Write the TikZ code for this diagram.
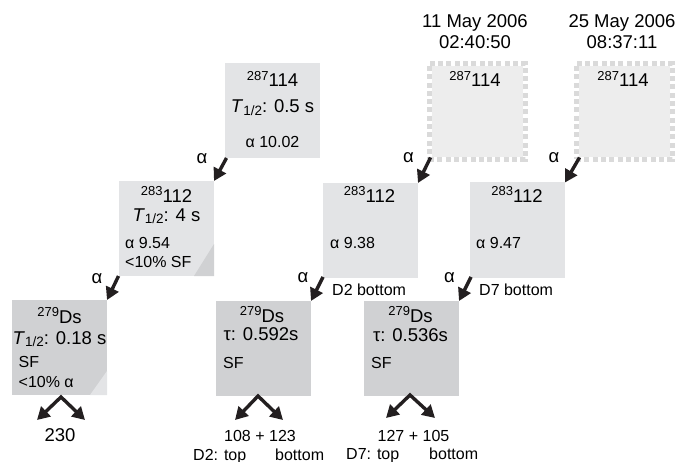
\documentclass[tikz,border=0pt]{standalone}
\usepackage{fontspec}
\setmainfont{Liberation Sans}
\usetikzlibrary{arrows.meta}
\definecolor{boxlight}{HTML}{E3E4E6}
\definecolor{boxdark}{HTML}{D0D1D3}
\definecolor{boxghost}{HTML}{EDEDED}
\definecolor{ghostline}{HTML}{DADADA}
\definecolor{ink}{HTML}{231F20}
\newcommand{\szL}{\fontsize{18.5}{20}\selectfont}
\newcommand{\szS}{\fontsize{16}{17}\selectfont}
\newcommand{\Thalf}{\textit{T}\raisebox{-0.3ex}{\fontsize{13.5}{14}\selectfont 1/2}}
\newcommand{\iso}[2]{\raisebox{0.62ex}{\fontsize{13}{14}\selectfont #1}#2}
\tikzset{
  nbox/.style={minimum width=95pt, minimum height=95pt, inner sep=0pt, outer sep=0pt, draw=none},
  lightbox/.style={nbox, fill=boxlight},
  darkbox/.style={nbox, fill=boxdark},
  ghostbox/.style={minimum width=96pt, minimum height=96pt, inner sep=0pt, outer sep=0pt,
     draw=ghostline, line width=5pt, dash pattern=on 5pt off 3.3pt},
  big/.style={anchor=base, inner sep=0pt, font=\szL},
  small/.style={anchor=base, inner sep=0pt, font=\szS},
  smallw/.style={anchor=base west, inner sep=0pt, font=\szS},
  arr/.style={draw=ink, line width=3.4pt, -{Triangle[length=12.5pt,width=13.5pt]}},
  fork/.style={draw=ink, line width=3.4pt, line join=miter,
     {Triangle[length=12.5pt,width=13.5pt]}-{Triangle[length=12.5pt,width=13.5pt]}},
}
\begin{document}
\begin{tikzpicture}[x=1pt,y=-1pt]
\useasboundingbox (0,0) rectangle (676,462);
% boxes
\node[lightbox] (A) at (272.5,110.5) {};
\node[lightbox] (B) at (166.5,228.5) {};
\node[darkbox]  (C) at (59.5,347.5) {};
\node[ghostbox] (D) at (477,111.5) {};
\node[ghostbox] (E) at (624,111.5) {};
\fill[boxghost] ([shift={(2.5pt,-2.5pt)}]D.north west) rectangle ([shift={(-2.5pt,2.5pt)}]D.south east);
\fill[boxghost] ([shift={(2.5pt,-2.5pt)}]E.north west) rectangle ([shift={(-2.5pt,2.5pt)}]E.south east);
\node[lightbox] (F) at (370.5,230.5) {};
\node[lightbox] (G) at (517.5,230) {};
\node[darkbox]  (H) at (263.5,348.5) {};
\node[darkbox]  (I) at (411.5,348.5) {};
% folded corners
\fill[boxdark] ([xshift=-20pt]B.south east) -- (B.south east) -- ([yshift=32pt]B.south east) -- cycle;
\fill[boxlight] ([xshift=-17pt]C.south east) -- (C.south east) -- ([yshift=24pt]C.south east) -- cycle;
% dates
\node[big] (d1) at (475,28) {11 May 2006};
\node[big] (t1) at (475,49) {02:40:50};
\node[big] (d2) at (622,28) {25 May 2006};
\node[big] (t2) at (622,49) {08:37:11};
% box A
\node[big] (A1) at (272.5,87) {\iso{287}{114}};
\node[big] (A2) at (272.5,113) {\Thalf: 0.5 s};
\node[small] (A3) at (272.5,148) {α 10.02};
% box B
\node[big] (B1) at (166.5,202) {\iso{283}{112}};
\node[big] (B2) at (166.5,221) {\Thalf: 4 s};
\node[smallw] (B3) at (125,248) {α 9.54};
\node[smallw] (B4) at (125,267) {<10\% SF};
% box C
\node[big] (C1) at (59.5,323) {\iso{279}{Ds}};
\node[big] (C2) at (59.5,344) {\Thalf: 0.18 s};
\node[smallw] (C3) at (18.5,367) {SF};
\node[smallw] (C4) at (18.5,387) {<10\% α};
% box D, E
\node[big] (D1) at (475,87) {\iso{287}{114}};
\node[big] (E1) at (623,87) {\iso{287}{114}};
% box F, G
\node[big] (F1) at (369.5,202) {\iso{283}{112}};
\node[smallw] (F2) at (330,248) {α 9.38};
\node[big] (G1) at (517,202) {\iso{283}{112}};
\node[smallw] (G2) at (476,248) {α 9.47};
% box H, I
\node[big] (H1) at (262,322) {\iso{279}{Ds}};
\node[big] (H2) at (261,340) {τ: 0.592s};
\node[smallw] (H3) at (223,368) {SF};
\node[big] (I1) at (410.5,322) {\iso{279}{Ds}};
\node[big] (I2) at (410.5,341) {τ: 0.536s};
\node[smallw] (I3) at (371,368) {SF};
% alpha arrows
\draw[arr] ([xshift=1.5pt]A.south west) -- (B.north east);
\draw[arr] ([xshift=-0.5pt]B.south west) -- (C.north east);
\draw[arr] ([shift={(1.5pt,2pt)}]D.south west) -- (F.north east);
\draw[arr] ([shift={(3.5pt,2pt)}]E.south west) -- (G.north east);
\draw[arr] ([yshift=1pt]F.south west) -- (H.north east);
\draw[arr] ([shift={(1pt,0.5pt)}]G.south west) -- (I.north east);
\node[big] (a1) at (202,164) {α};
\node[big] (a2) at (97,283) {α};
\node[big] (a3) at (408.5,163) {α};
\node[big] (a4) at (554,163) {α};
\node[big] (a5) at (303,282) {α};
\node[big] (a6) at (449.5,282) {α};
\node[smallw] (lb1) at (332,295) {D2 bottom};
\node[smallw] (lb2) at (479,295) {D7 bottom};
% fission forks
\coordinate (Cp) at (61,397);
\coordinate (Cl) at (37,420);
\coordinate (Cr) at (85,420);
\draw[fork] (Cl) -- (Cp) -- (Cr);
\coordinate (Hp) at (258,396);
\coordinate (Hl) at (235,420);
\coordinate (Hr) at (283,420);
\draw[fork] (Hl) -- (Hp) -- (Hr);
\coordinate (Ip) at (410,395);
\coordinate (Il) at (386,418);
\coordinate (Ir) at (435,418);
\draw[fork] (Il) -- (Ip) -- (Ir);
\node[big] (r1) at (60,441) {230};
\node[small] (r2) at (260,441) {108 + 123};
\node[smallw] (r2a) at (193,460) {D2: top};
\node[smallw] (r2b) at (275,460) {bottom};
\node[small] (r3) at (413.5,441) {127 + 105};
\node[smallw] (r3a) at (346,459) {D7: top};
\node[smallw] (r3b) at (429,459) {bottom};
\end{tikzpicture}
\end{document}
